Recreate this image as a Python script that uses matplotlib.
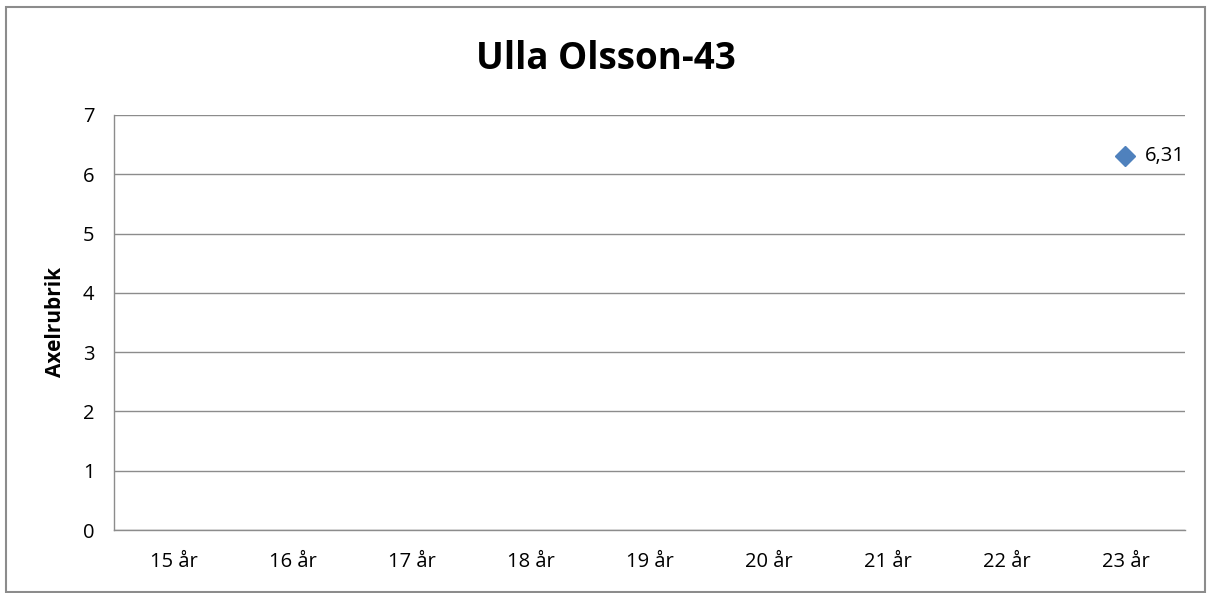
import matplotlib.pyplot as plt
from matplotlib.patches import Rectangle

categories = ['15 år', '16 år', '17 år', '18 år', '19 år', '20 år', '21 år', '22 år', '23 år']
point_category = '23 år'
point_value = 6.31
point_label = '6,31'
yticks = [0, 1, 2, 3, 4, 5, 6, 7]

plt.rcParams['font.family'] = ['Open Sans', 'DejaVu Sans']

fig = plt.figure(figsize=(12.11, 5.93), dpi=100)
ax = fig.add_axes([0.0941, 0.1062, 0.8844, 0.7000])

# outer chart border
fig.patches.append(Rectangle((6 / 1211, 1 / 593), 1199 / 1211, 585 / 593,
                             transform=fig.transFigure, fill=False,
                             edgecolor='#8c8c8c', linewidth=1.5))

x_idx = categories.index(point_category)
ax.plot([x_idx], [point_value], linestyle='none', marker='D', markersize=10.5,
        color='#4F81BD')
ax.annotate(point_label, (x_idx, point_value), xytext=(14, 0),
            textcoords='offset points', va='center', ha='left', fontsize=14.5)

ax.set_xlim(-0.5, len(categories) - 0.5)
ax.set_ylim(0, 7)
ax.set_xticks(range(len(categories)))
ax.set_xticklabels(categories)
ax.set_yticks(yticks)
ax.tick_params(axis='both', length=0, labelsize=14.5, colors='#000000')
ax.tick_params(axis='x', pad=16)
ax.tick_params(axis='y', pad=14)
ax.grid(axis='y', color='#8c8c8c', linewidth=1)
ax.set_axisbelow(True)
for side in ['top', 'right']:
    ax.spines[side].set_visible(False)
for side in ['left', 'bottom']:
    ax.spines[side].set_color('#8c8c8c')
    ax.spines[side].set_linewidth(1)

ax.set_ylabel('Axelrubrik', fontsize=15, fontweight='bold', labelpad=12)
fig.text(0.5, 0.9, 'Ulla Olsson-43', ha='center', va='center',
         fontsize=26.5, fontweight='bold')

fig.savefig('out.png', dpi=100)
